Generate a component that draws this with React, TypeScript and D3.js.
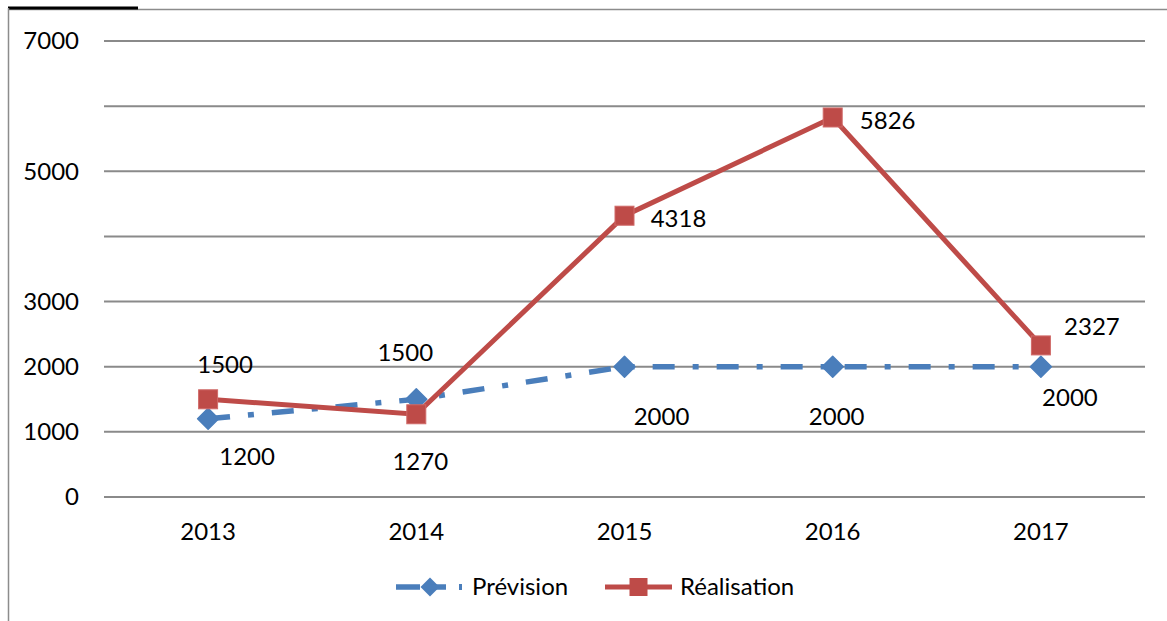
import React from "react";
import * as d3 from "d3";

const years = ["2013", "2014", "2015", "2016", "2017"];
const prevision = [1200, 1500, 2000, 2000, 2000];
const realisation = [1500, 1270, 4318, 5826, 2327];
const yLabels = [0, 1000, 2000, 3000, 5000, 7000];
const gridValues = [0, 1000, 2000, 3000, 4000, 5000, 6000, 7000];

// label offsets from each point (dx, dy)
const prevOffsets = [
  [39, 38],
  [-11, -47],
  [37, 50],
  [4, 50],
  [29, 31],
];
const realOffsets = [
  [17, -35],
  [4, 47],
  [54, 3],
  [55, 3],
  [51, -19],
];

const BLUE = "#4a7ebb";
const RED = "#be4b48";
const FONT = "Lato, 'Open Sans', sans-serif";
const FS = 24;

const App = () => {
  const width = 1167;
  const height = 621;
  const MARGIN = { LEFT: 104, RIGHT: 22, TOP: 41, BOTTOM: 124 };

  const x = d3
    .scaleBand()
    .domain(years)
    .range([MARGIN.LEFT, width - MARGIN.RIGHT]);
  const y = d3
    .scaleLinear()
    .domain([0, 7000])
    .range([height - MARGIN.BOTTOM, MARGIN.TOP]);

  const cx = (i: number) => (x(years[i]) || 0) + x.bandwidth() / 2;
  const line = d3
    .line<number>()
    .x((_, i) => cx(i))
    .y((d) => y(d));

  const diamond = (px: number, py: number, r: number) =>
    `M${px},${py - r}L${px + r},${py}L${px},${py + r}L${px - r},${py}Z`;

  return (
    <svg
      width={width}
      height={height}
      style={{ position: "absolute", left: 0, top: 0 }}
      fontFamily={FONT}
    >
      <rect width={width} height={height} fill="#fff" />
      {/* frame */}
      <line x1={8} x2={width} y1={9.5} y2={9.5} stroke="#8c8c8c" strokeWidth={1.5} />
      <line x1={8} x2={138} y1={8} y2={8} stroke="#000" strokeWidth={3} />
      <line x1={8.5} x2={8.5} y1={8} y2={height} stroke="#8c8c8c" strokeWidth={1.5} />

      {/* gridlines */}
      {gridValues.map((v) => (
        <line
          key={v}
          x1={MARGIN.LEFT}
          x2={width - MARGIN.RIGHT}
          y1={y(v)}
          y2={y(v)}
          stroke="#8a8a8a"
          strokeWidth={2}
        />
      ))}

      {/* y labels */}
      {yLabels.map((v) => (
        <text
          key={v}
          x={79}
          y={y(v)}
          dy="0.35em"
          textAnchor="end"
          fontSize={FS}
          fill="#000"
        >
          {v}
        </text>
      ))}

      {/* x labels */}
      {years.map((yr) => (
        <text
          key={yr}
          x={(x(yr) || 0) + x.bandwidth() / 2}
          y={532}
          dy="0.35em"
          textAnchor="middle"
          fontSize={FS}
          fill="#000"
        >
          {yr}
        </text>
      ))}

      {/* Prévision */}
      <path
        d={line(prevision) || ""}
        fill="none"
        stroke={BLUE}
        strokeWidth={5.5}
        strokeDasharray="22,18,6,18"
      />
      {prevision.map((v, i) => (
        <path key={i} d={diamond(cx(i), y(v), 10.5)} fill={BLUE} stroke={BLUE} strokeWidth={1.5} strokeLinejoin="round" />
      ))}

      {/* Réalisation */}
      <path d={line(realisation) || ""} fill="none" stroke={RED} strokeWidth={5} />
      {realisation.map((v, i) => (
        <rect
          key={i}
          x={cx(i) - 9.5}
          y={y(v) - 9.5}
          width={19}
          height={19}
          fill={RED}
          stroke="#d06a68"
          strokeWidth={1}
        />
      ))}

      {/* data labels */}
      {prevision.map((v, i) => (
        <text
          key={"p" + i}
          x={cx(i) + prevOffsets[i][0]}
          y={y(v) + prevOffsets[i][1]}
          dy="0.35em"
          textAnchor="middle"
          fontSize={FS}
          fill="#000"
        >
          {v}
        </text>
      ))}
      {realisation.map((v, i) => (
        <text
          key={"r" + i}
          x={cx(i) + realOffsets[i][0]}
          y={y(v) + realOffsets[i][1]}
          dy="0.35em"
          textAnchor="middle"
          fontSize={FS}
          fill="#000"
        >
          {v}
        </text>
      ))}

      {/* legend */}
      <g>
        <line x1={396} x2={420} y1={587} y2={587} stroke={BLUE} strokeWidth={5.5} />
        <path d={diamond(430, 587, 9.5)} fill={BLUE} />
        <line x1={430} x2={446} y1={587} y2={587} stroke={BLUE} strokeWidth={5.5} />
        <rect x={459} y={584} width={3} height={6} fill={BLUE} />
        <text x={472} y={587} dy="0.35em" fontSize={FS} fill="#000">
          Prévision
        </text>
        <line x1={605} x2={672} y1={587} y2={587} stroke={RED} strokeWidth={5} />
        <rect x={629.5} y={578} width={18} height={18} fill={RED} />
        <text x={680} y={587} dy="0.35em" fontSize={FS} fill="#000">
          Réalisation
        </text>
      </g>
    </svg>
  );
};

export default App;
